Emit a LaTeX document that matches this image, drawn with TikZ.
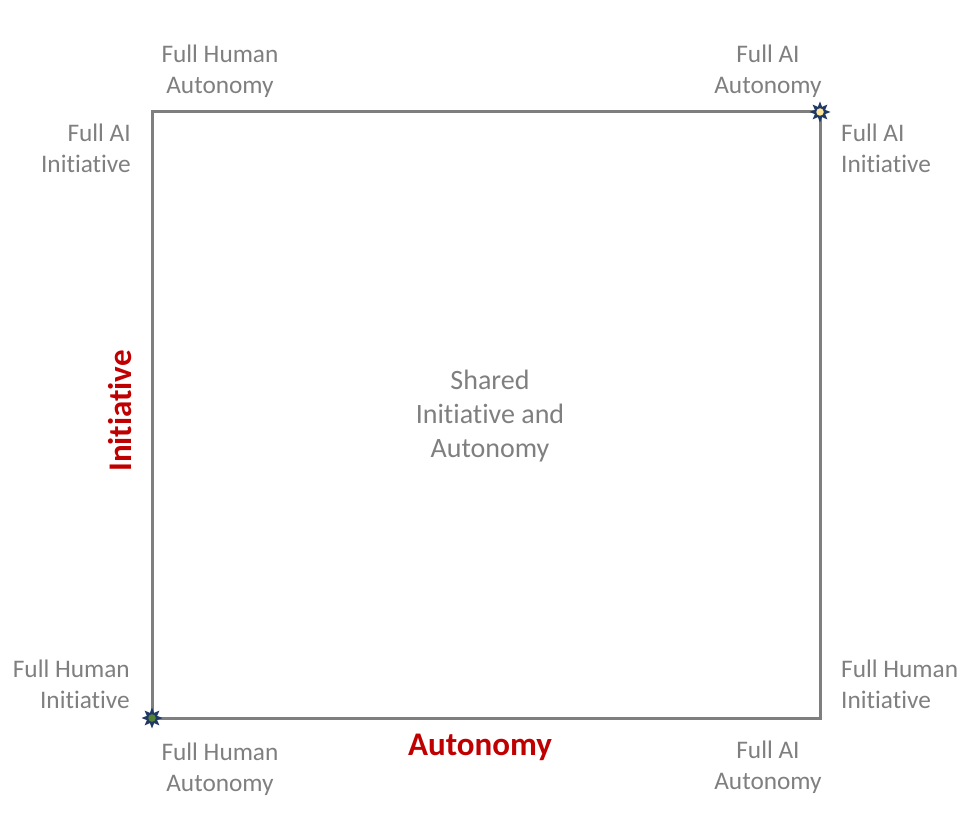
\documentclass[tikz,border=0pt]{standalone}
\usepackage{fontspec}
\setmainfont{Carlito}[Ligatures=NoCommon]
\usetikzlibrary{shapes.geometric}
\definecolor{lbl}{HTML}{7F7F7F}
\definecolor{axred}{HTML}{C00000}
\definecolor{navy}{HTML}{1F3864}
\definecolor{ptgreen}{HTML}{548235}
\definecolor{ptyellow}{HTML}{FFE699}
\tikzset{
  lab/.style={text=lbl, font=\fontsize{25.3}{31}\selectfont, inner sep=0pt},
  centerlab/.style={text=lbl, font=\fontsize{28}{34}\selectfont, inner sep=0pt, align=center},
  axis/.style={text=axred, font=\fontsize{33}{40}\selectfont\bfseries, inner sep=0pt},
  frame/.style={draw=lbl, line width=3pt},
  starmark/.style={star, star points=8, star point ratio=1.9, minimum size=21pt, inner sep=0pt, fill=navy, draw=none},
  dotmark/.style={circle, minimum size=7.5pt, inner sep=0pt, draw=none}
}
\begin{document}
\begin{tikzpicture}[x=1pt,y=-1pt]
\useasboundingbox (0,0) rectangle (972,818);
\coordinate (tl) at (152,112);
\coordinate (tr) at (820,112);
\coordinate (br) at (820,718);
\coordinate (bl) at (152,718);
\draw[frame] (tl) -- (tr) -- (br) -- (bl) -- cycle;
% stars
\node[starmark] (s1) at (bl) {};
\node[dotmark, fill=ptgreen] (d1) at (bl) {};
\node[starmark] (s2) at (tr) {};
\node[dotmark, fill=ptyellow] (d2) at (tr) {};
% top labels
\node[lab, align=center] (tla) at (220,71) {Full Human\\Autonomy};
\node[lab, align=center] (tra) at (768,71) {Full AI\\Autonomy};
% side top labels
\node[lab, align=right, anchor=east] (lti) at (131,148) {Full AI\\Initiative};
\node[lab, align=left, anchor=west] (rti) at (841,148) {Full AI\\Initiative};
% side bottom labels
\node[lab, align=right, anchor=east] (lbi) at (130,684) {Full Human\\Initiative};
\node[lab, align=left, anchor=west] (rbi) at (841,684) {Full Human\\Initiative};
% bottom labels
\node[lab, align=center] (bla) at (220,769) {Full Human\\Autonomy};
\node[lab, align=center] (bra) at (768,767) {Full AI\\Autonomy};
% center
\node[centerlab] (ctr) at (490,416) {Shared\\Initiative and\\Autonomy};
% axes
\node[axis] (ax) at (480,747) {Autonomy};
\node[axis, rotate=90] (ay) at (120,411) {Initiative};
\end{tikzpicture}
\end{document}
